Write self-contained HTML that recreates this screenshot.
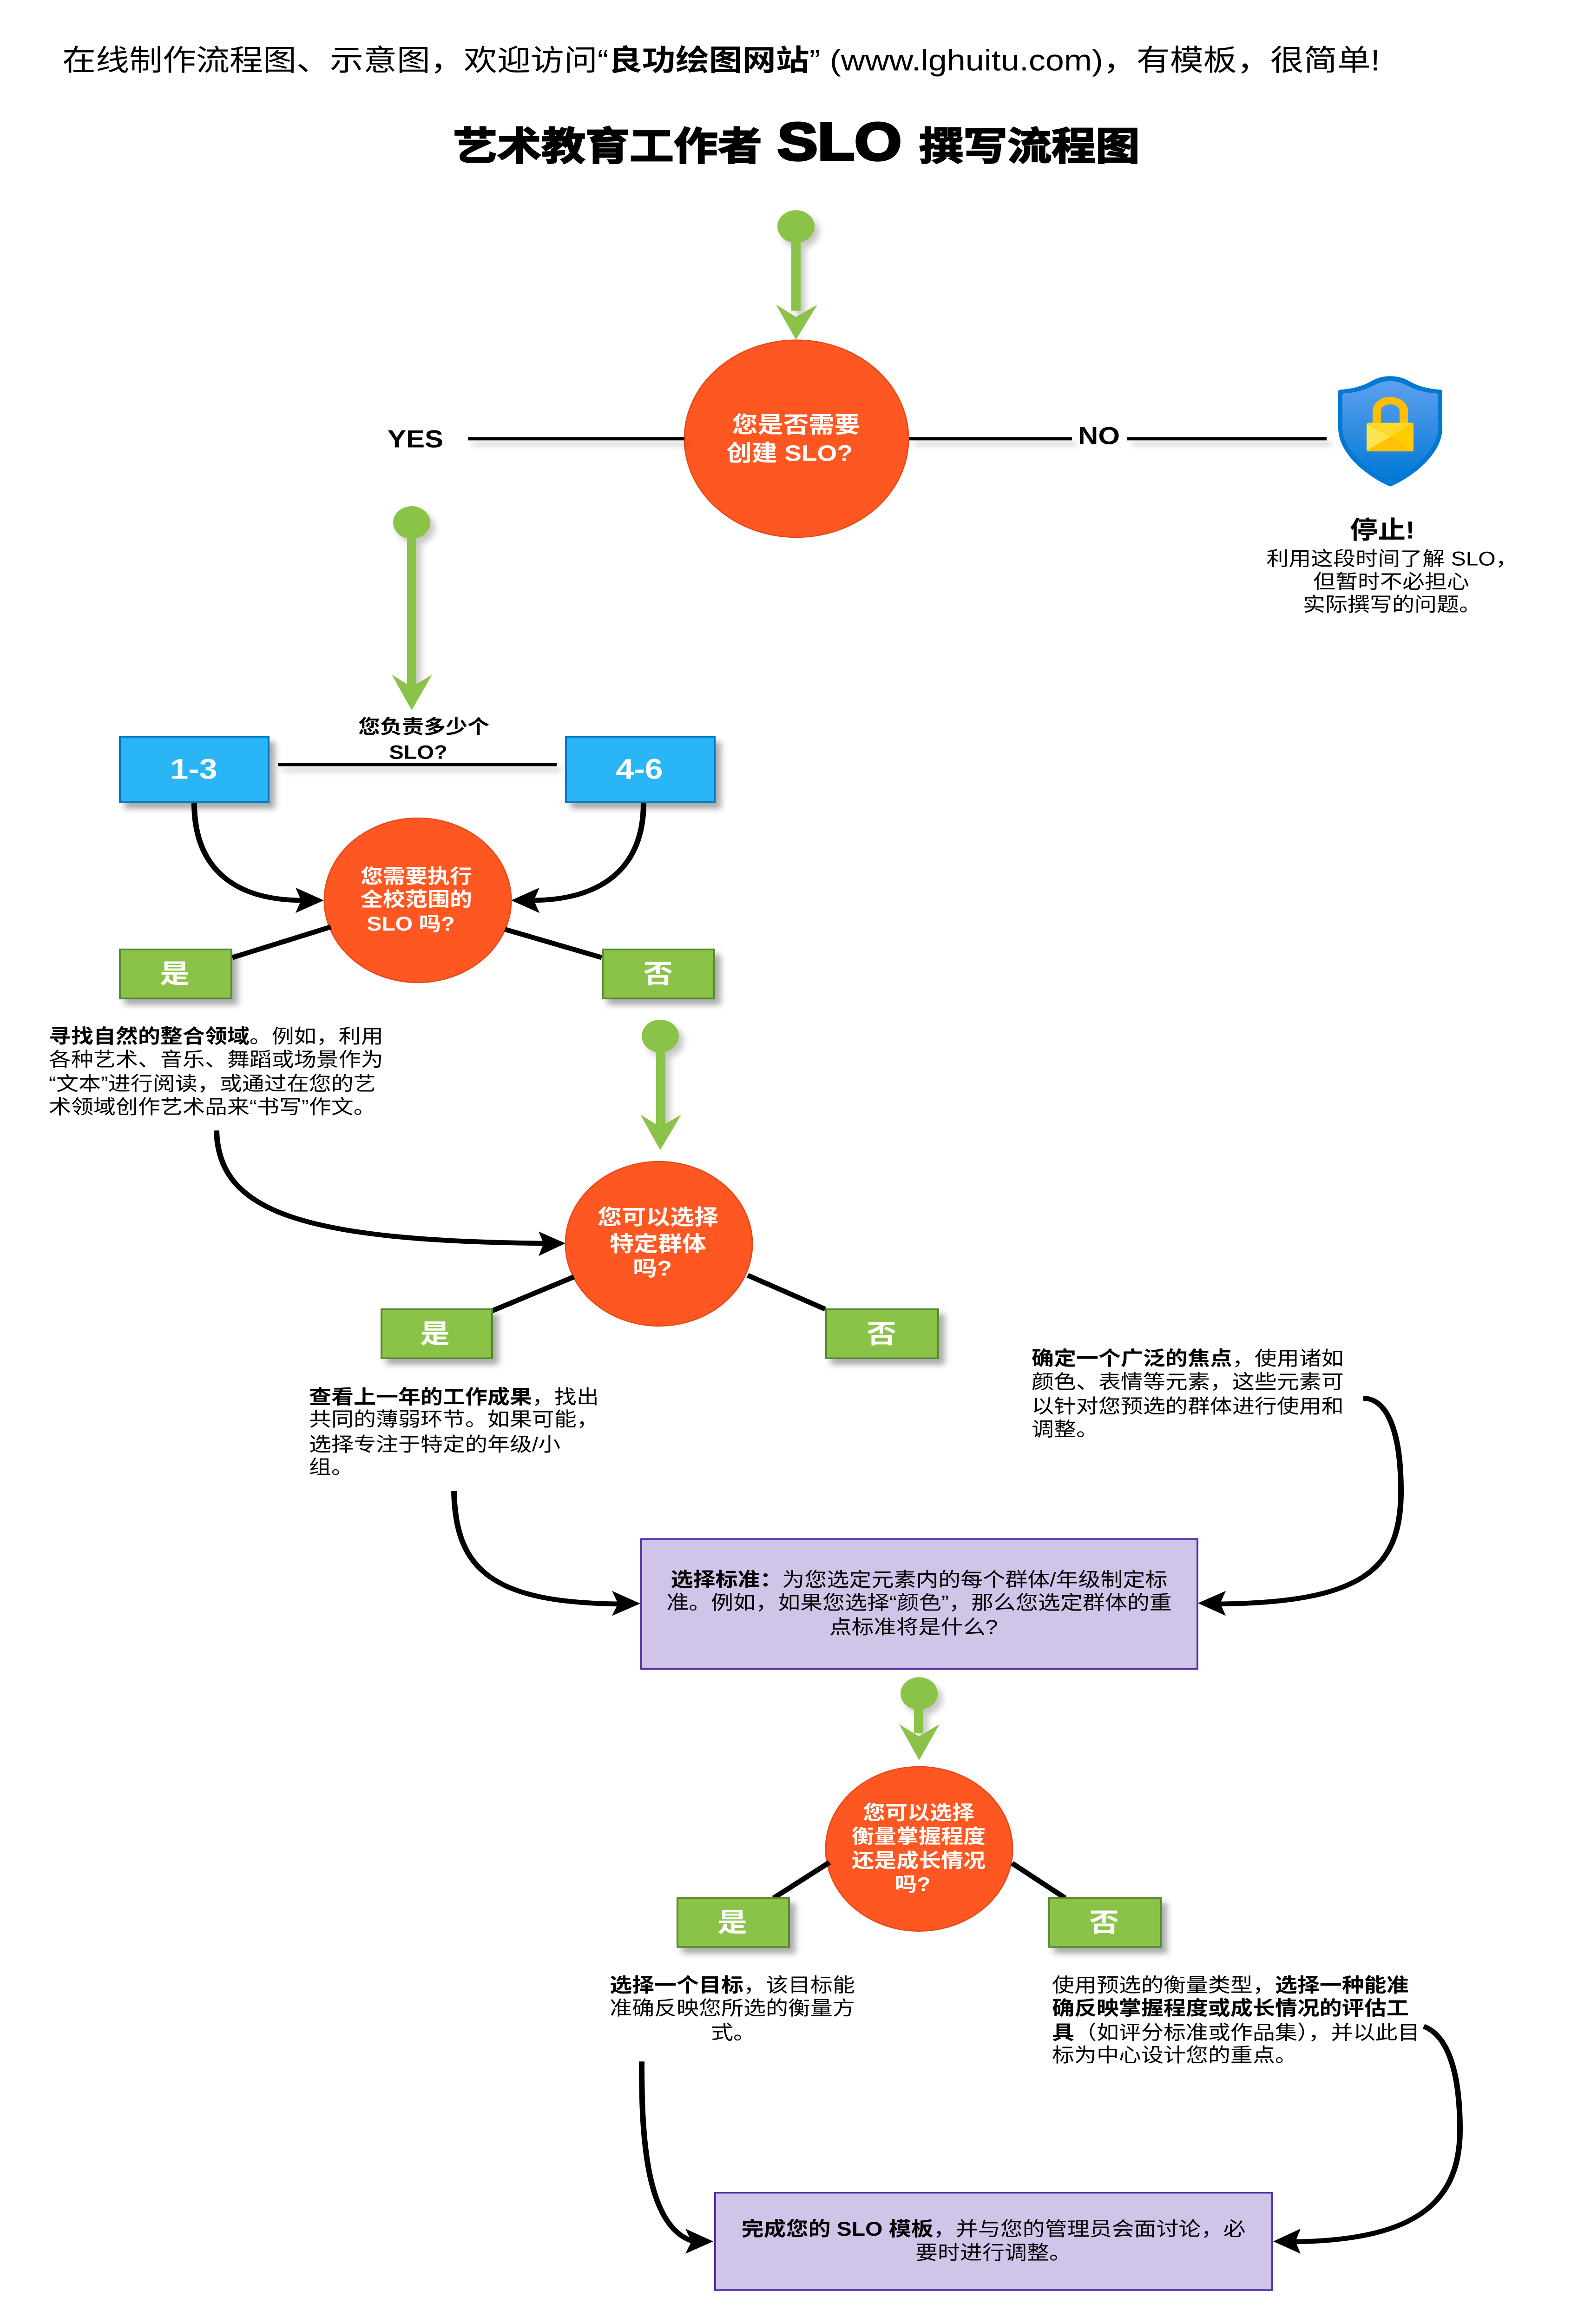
<!DOCTYPE html>
<html lang="zh"><head><meta charset="utf-8"><title>艺术教育工作者 SLO 撰写流程图</title>
<style>
html,body{margin:0;padding:0;background:#fff;width:100%;height:100%;overflow:hidden}
svg{display:block;position:absolute;left:0;top:0;width:100vw;height:100vh}
text{font-family:"Liberation Sans","Noto Sans CJK SC",sans-serif;fill:#000}
.b{font-weight:700}
.w{fill:#fff;font-weight:700}
.p{font-size:48px}
.c{text-anchor:middle}
.ln{fill:none;stroke:#000;stroke-width:12}
.s8{stroke-width:8}
.g{fill:#8BC34A;stroke:#558B2F;stroke-width:4}
.bl{fill:#29B6F6;stroke:#0277BD;stroke-width:4}
.pu{fill:#D1C4E9;stroke:#512DA8;stroke-width:4}
.o{fill:#FF5722;stroke:#E64A19;stroke-width:3}
</style></head><body>
<svg xmlns="http://www.w3.org/2000/svg" viewBox="0 0 3396 5684" preserveAspectRatio="none">
<defs>
<filter id="sh" x="-30%" y="-30%" width="160%" height="160%" filterUnits="objectBoundingBox"><feDropShadow dx="12" dy="14" stdDeviation="7" flood-color="#000" flood-opacity="0.33"/></filter>
<filter id="shl" x="0" y="0" width="3396" height="5684" filterUnits="userSpaceOnUse"><feDropShadow dx="10" dy="13" stdDeviation="7" flood-color="#000" flood-opacity="0.22"/></filter>
<linearGradient id="sg" x1="0" y1="0" x2="0" y2="1"><stop offset="0" stop-color="#5EA0EF"/><stop offset="1" stop-color="#0078D4"/></linearGradient>
</defs>

<text x="134" y="172" font-size="72">在线制作流程图、示意图，欢迎访问“<tspan class="b">良功绘图网站</tspan>” (www.lghuitu.com)，有模板，很简单!</text>

<text y="391" class="b" font-size="95" stroke="#000" stroke-width="3" x="975">艺术教育工作者</text>
<text y="391" class="b" font-size="130" stroke="#000" stroke-width="6" x="1673">SLO</text>
<text y="391" class="b" font-size="95" stroke="#000" stroke-width="3" x="1978">撰写流程图</text>

<!-- Start 1 -->
<g filter="url(#shl)">
<rect x="1703" y="590" width="20" height="170" fill="#8BC34A"/>
<circle cx="1713" cy="554" r="40" fill="#8BC34A"/>
</g>
<polygon points="1713,831 1670,745 1713,775 1759,745" fill="#8BC34A"/>
<circle class="o" cx="1714" cy="1073" r="241"/>
<text class="w c" x="1713" y="1058" font-size="55">您是否需要</text>
<text class="w c" x="1699" y="1127" font-size="55">创建 SLO?</text>

<text class="b" x="834" y="1094" font-size="60">YES</text>
<path class="ln s8" filter="url(#shl)" d="M1007 1073H1473"/>
<path class="ln s8" filter="url(#shl)" d="M1956 1073H2307"/>
<text class="b" x="2320" y="1086" font-size="60">NO</text>
<path class="ln s8" filter="url(#shl)" d="M2426 1073H2855"/>

<!-- Shield -->
<path fill="#0078D4" d="M2992 920C2970 920 2958 928 2945 936C2930 945 2905 952 2884 953Q2880 953 2880 958V1046C2880 1120 2960 1175 2992 1190C3024 1175 3104 1120 3104 1046V958Q3104 953 3100 953C3079 952 3054 945 3039 936C3026 928 3014 920 2992 920Z"/>
<path fill="url(#sg)" d="M2992 932C2974 932 2963 939 2950 946C2935 955 2912 961 2893 962Q2889 962 2889 967V1046C2889 1110 2962 1162 2992 1178C3022 1162 3095 1110 3095 1046V967Q3095 962 3091 962C3072 961 3049 955 3034 946C3021 939 3010 932 2992 932Z"/>
<path d="M2963 1037V1005a29 25 0 0 1 58 0V1037" fill="none" stroke="#FFBE00" stroke-width="18"/>
<rect x="2941" y="1034" width="101" height="70" rx="3" fill="#FFCC00"/>
<polygon points="2941,1037 2992,1068 2941,1101" fill="#FFE452"/>
<polygon points="2943,1034 3040,1034 2992,1068" fill="#FFDA2D"/>
<polygon points="2943,1104 2992,1068 3040,1104" fill="#FFC107"/>
<text class="b c" x="2975" y="1317" font-size="60">停止!</text>
<text class="p c" x="2996" y="1383">利用这段时间了解 SLO，</text>
<text class="p c" x="2994" y="1439">但暂时不必担心</text>
<text class="p c" x="2996" y="1495">实际撰写的问题。</text>

<!-- Start 2 -->
<g filter="url(#shl)">
<rect x="876" y="1314" width="20" height="366" fill="#8BC34A"/>
<circle cx="886" cy="1278" r="40" fill="#8BC34A"/>
</g>
<polygon points="886,1737 843,1650 886,1680 930,1650" fill="#8BC34A"/>

<text class="b c" x="912" y="1794" font-size="47">您负责多少个</text>
<text class="b c" x="900" y="1856" font-size="47">SLO?</text>
<path class="ln s8" filter="url(#shl)" d="M598 1870H1198"/>
<rect class="bl" x="258" y="1802" width="320" height="160" filter="url(#sh)"/>
<rect class="bl" x="1218" y="1802" width="320" height="160" filter="url(#sh)"/>
<text class="w c" x="417" y="1905" font-size="70">1-3</text>
<text class="w c" x="1376" y="1905" font-size="70">4-6</text>

<path class="ln" d="M418 1964C418 2120 500 2202 652 2202"/>
<polygon points="697,2202 636,2171 648,2202 636,2233"/>
<path class="ln" d="M1385 1964C1385 2120 1298 2202 1144 2202"/>
<polygon points="1100,2202 1161,2171 1149,2202 1161,2233"/>

<circle class="o" cx="899" cy="2202" r="201"/>
<text class="w c" x="896" y="2160" font-size="48">您需要执行</text>
<text class="w c" x="896" y="2216" font-size="48">全校范围的</text>
<text class="w c" x="884" y="2276" font-size="48">SLO 吗?</text>

<path class="ln" d="M500 2342L712 2267"/>
<path class="ln" d="M1087 2273L1295 2342"/>
<rect class="g" x="258" y="2322" width="240" height="120" filter="url(#sh)"/>
<rect class="g" x="1297" y="2322" width="240" height="120" filter="url(#sh)"/>
<text class="w c" x="376" y="2404" font-size="64">是</text>
<text class="w c" x="1416" y="2404" font-size="64">否</text>

<text class="p" x="105" y="2551"><tspan class="b">寻找自然的整合领域</tspan>。例如，利用</text>
<text class="p" x="105" y="2608">各种艺术、音乐、舞蹈或场景作为</text>
<text class="p" x="105" y="2667">“文本”进行阅读，或通过在您的艺</text>
<text class="p" x="105" y="2724">术领域创作艺术品来“书写”作文。</text>

<!-- Start 3 -->
<g filter="url(#shl)">
<rect x="1412" y="2570" width="20" height="185" fill="#8BC34A"/>
<circle cx="1421" cy="2534" r="40" fill="#8BC34A"/>
</g>
<polygon points="1421,2813 1378,2726 1421,2756 1466,2726" fill="#8BC34A"/>

<path class="ln" d="M466 2765C470 2960 640 3035 1175 3041"/>
<polygon points="1217,3041 1159,3012 1170,3041 1159,3072"/>

<circle class="o" cx="1418" cy="3042" r="201"/>
<text class="w c" x="1416" y="2995" font-size="52">您可以选择</text>
<text class="w c" x="1416" y="3060" font-size="52">特定群体</text>
<text class="w c" x="1404" y="3120" font-size="52">吗?</text>

<path class="ln" d="M1059 3206L1235 3123"/>
<path class="ln" d="M1609 3119L1776 3202"/>
<rect class="g" x="821" y="3202" width="238" height="120" filter="url(#sh)"/>
<rect class="g" x="1778" y="3202" width="241" height="120" filter="url(#sh)"/>
<text class="w c" x="936" y="3284" font-size="64">是</text>
<text class="w c" x="1897" y="3284" font-size="64">否</text>

<text class="p" x="665" y="3433"><tspan class="b">查看上一年的工作成果</tspan>，找出</text>
<text class="p" x="665" y="3488">共同的薄弱环节。如果可能，</text>
<text class="p" x="665" y="3549">选择专注于特定的年级/小</text>
<text class="p" x="665" y="3605">组。</text>

<text class="p" x="2220" y="3339"><tspan class="b">确定一个广泛的焦点</tspan>，使用诸如</text>
<text class="p" x="2220" y="3396">颜色、表情等元素，这些元素可</text>
<text class="p" x="2220" y="3456">以针对您预选的群体进行使用和</text>
<text class="p" x="2220" y="3512">调整。</text>

<path class="ln" d="M977 3647C980 3840 1060 3920 1335 3923"/>
<polygon points="1378,3922 1317,3891 1330,3922 1317,3952"/>
<path class="ln" d="M2934 3420C2985 3420 3015 3500 3015 3648C3015 3840 2930 3920 2620 3923"/>
<polygon points="2578,3921 2638,3891 2626,3921 2638,3952"/>

<rect class="pu" x="1380" y="3764" width="1197" height="318"/>
<text class="p c" x="1978" y="3880"><tspan class="b">选择标准：</tspan>为您选定元素内的每个群体/年级制定标</text>
<text class="p c" x="1978" y="3936">准。例如，如果您选择“颜色”，那么您选定群体的重</text>
<text class="p c" x="1966" y="3996">点标准将是什么?</text>

<!-- Start 4 -->
<g filter="url(#shl)">
<rect x="1967" y="4178" width="20" height="60" fill="#8BC34A"/>
<circle cx="1978" cy="4142" r="40" fill="#8BC34A"/>
</g>
<polygon points="1978,4305 1935,4217 1978,4247 2022,4217" fill="#8BC34A"/>

<circle class="o" cx="1978" cy="4522" r="201"/>
<text class="w c" x="1977" y="4450" font-size="48">您可以选择</text>
<text class="w c" x="1977" y="4508" font-size="48">衡量掌握程度</text>
<text class="w c" x="1977" y="4567" font-size="48">还是成长情况</text>
<text class="w c" x="1964" y="4625" font-size="48">吗?</text>

<path class="ln" d="M1665 4642L1785 4555"/>
<path class="ln" d="M2178 4557L2292 4642"/>
<rect class="g" x="1458" y="4642" width="240" height="120" filter="url(#sh)"/>
<rect class="g" x="2258" y="4642" width="240" height="120" filter="url(#sh)"/>
<text class="w c" x="1576" y="4724" font-size="64">是</text>
<text class="w c" x="2376" y="4724" font-size="64">否</text>

<text class="p c" x="1576" y="4872"><tspan class="b">选择一个目标</tspan>，该目标能</text>
<text class="p c" x="1576" y="4928">准确反映您所选的衡量方</text>
<text class="p c" x="1578" y="4988">式。</text>

<text class="p" x="2264" y="4872">使用预选的衡量类型，<tspan class="b">选择一种能准</tspan></text>
<text class="p b" x="2264" y="4928">确反映掌握程度或成长情况的评估工</text>
<text class="p" x="2264" y="4988"><tspan class="b">具</tspan>（如评分标准或作品集），并以此目</text>
<text class="p" x="2264" y="5043">标为中心设计您的重点。</text>

<path class="ln" d="M1381 5042C1381 5200 1385 5445 1492 5482"/>
<polygon points="1535,5482 1475,5451 1488,5482 1475,5512"/>
<path class="ln" d="M3064 4956C3120 4980 3142 5080 3142 5210C3142 5400 3030 5480 2780 5483"/>
<polygon points="2740,5482 2799,5451 2788,5482 2799,5512"/>

<rect class="pu" x="1539" y="5363" width="1199" height="238"/>
<text class="p c" x="2138" y="5468"><tspan class="b">完成您的 SLO 模板</tspan>，并与您的管理员会面讨论，必</text>
<text class="p c" x="2138" y="5526">要时进行调整。</text>
</svg>
</body></html>
